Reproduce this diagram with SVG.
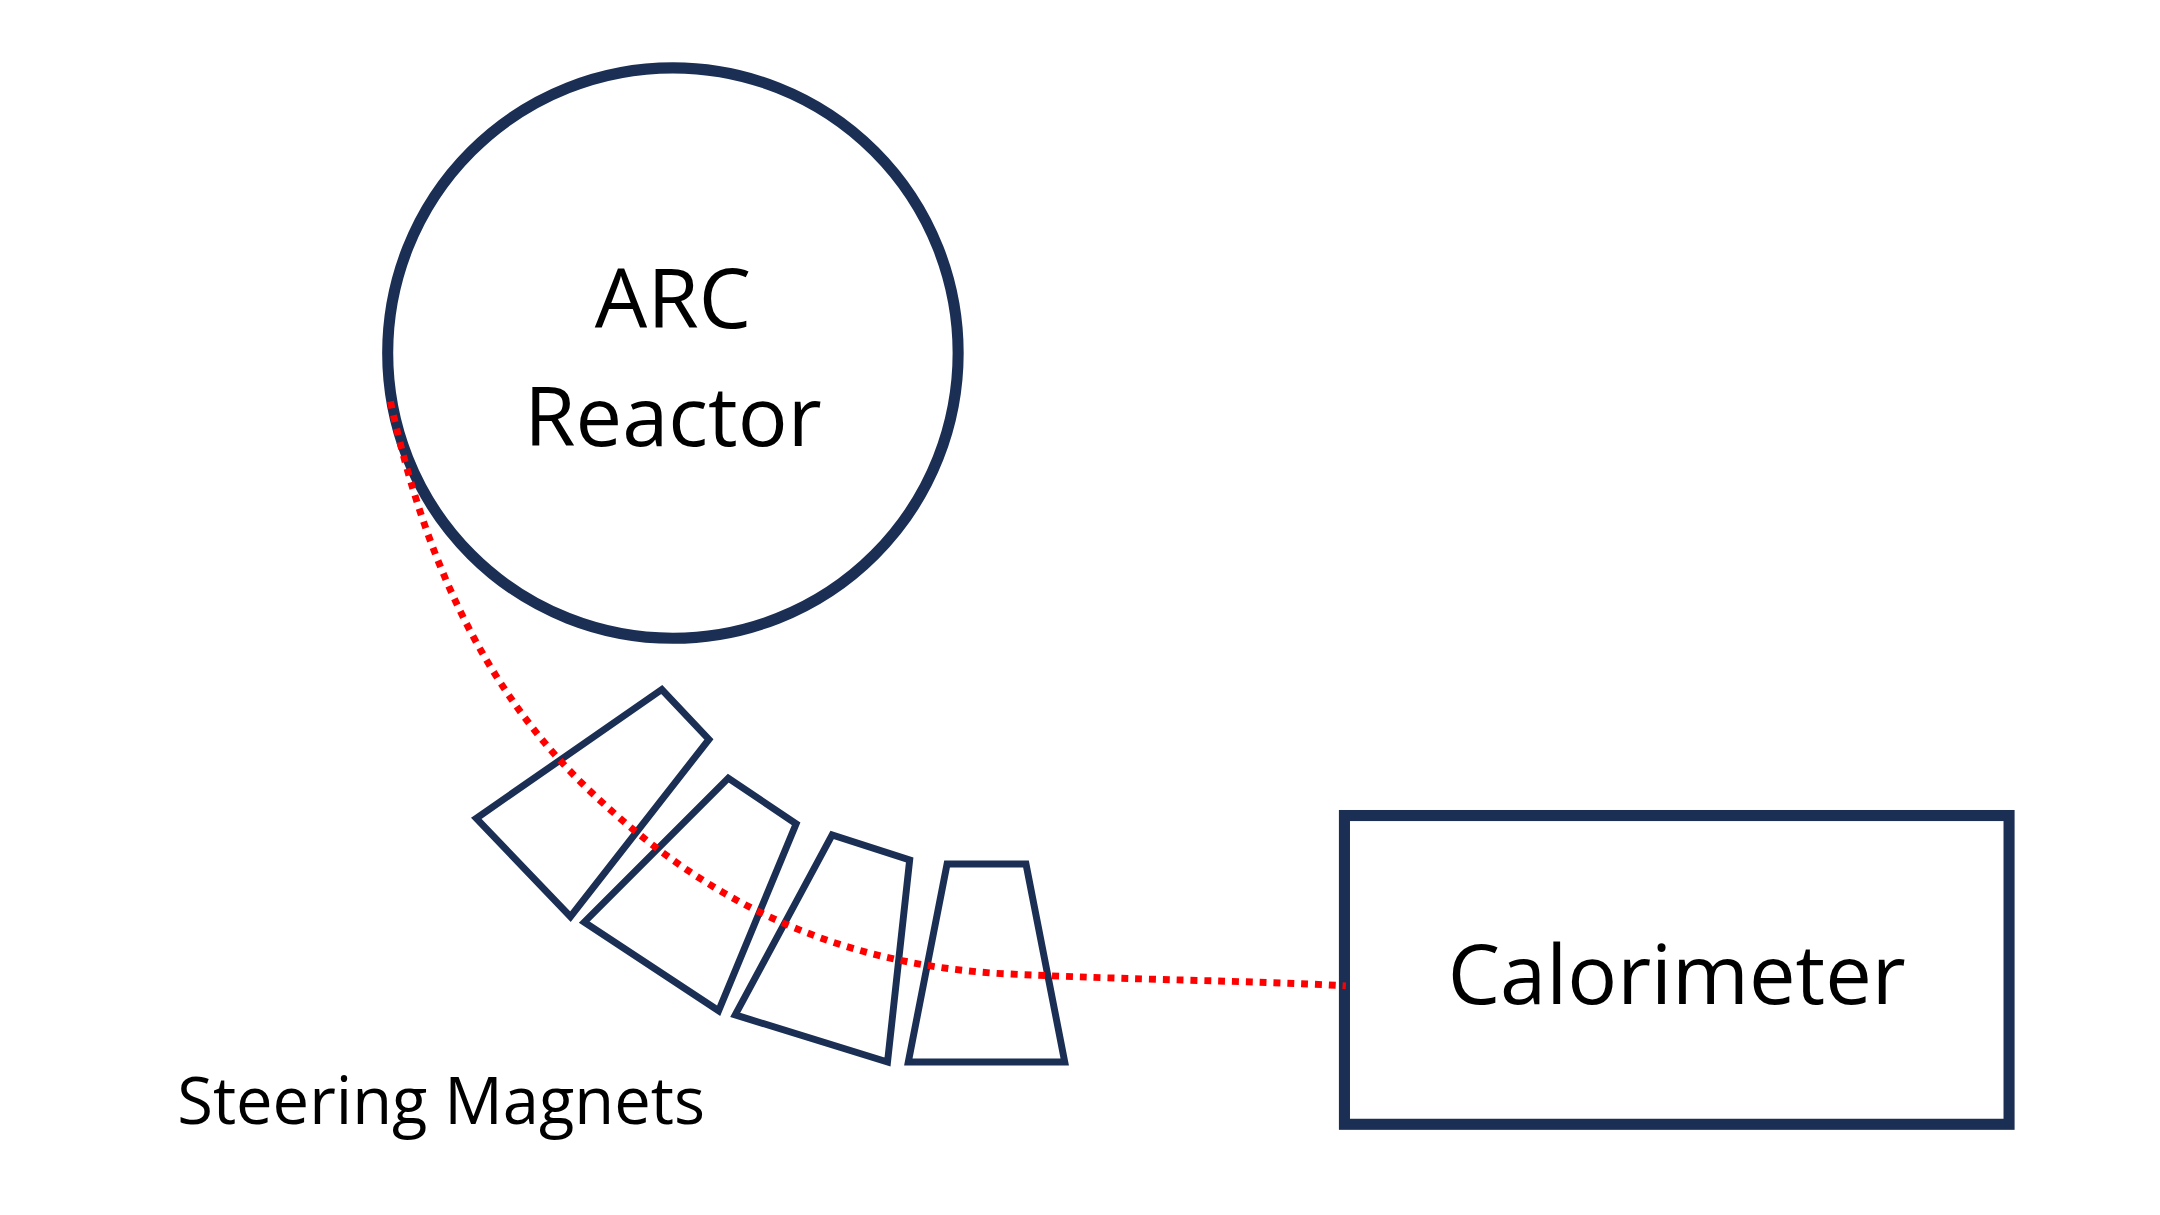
<svg xmlns="http://www.w3.org/2000/svg" width="2160" height="1215" viewBox="0 0 2160 1215">
<style>
.n{fill:none;stroke:#1b2f55}
.m{fill:none;stroke:#1b2f55;stroke-width:5;stroke-linejoin:miter}
.t{font-family:"Open Sans","Liberation Sans",sans-serif;fill:#000}
</style>
<rect width="2160" height="1215" fill="#fff"/>
<g transform="scale(1.3846)">
<g id="reactor">
<ellipse class="n" cx="486" cy="255" rx="206" ry="206" stroke-width="8"/>
<text class="t" x="486" y="237" font-size="60" text-anchor="middle">ARC</text>
<text class="t" x="486" y="322" font-size="60" text-anchor="middle">Reactor</text>
</g>
<g id="calorimeter">
<rect class="n" x="971" y="589" width="480" height="223" stroke-width="8"/>
<text class="t" x="1211" y="725" font-size="60" text-anchor="middle">Calorimeter</text>
</g>
<g id="magnets">
<polygon class="m" points="344,591 478,498 512,534 412,662"/>
<polygon class="m" points="422,666 526,562 575,595 519,730"/>
<polygon class="m" points="531,733 601,603 657,621 641,767"/>
<polygon class="m" points="656,767 684,624 741,624 769,767"/>
<text class="t" x="128" y="812" font-size="47">Steering Magnets</text>
</g>
<g id="connectors">
<path d="M282,290 C310,420 360,510 430,575 C510,650 600,695 720,703 C820,708 900,708 972,712" fill="none" stroke="#ff0000" stroke-width="5" stroke-dasharray="5 5"/>
</g>
</g>
</svg>
